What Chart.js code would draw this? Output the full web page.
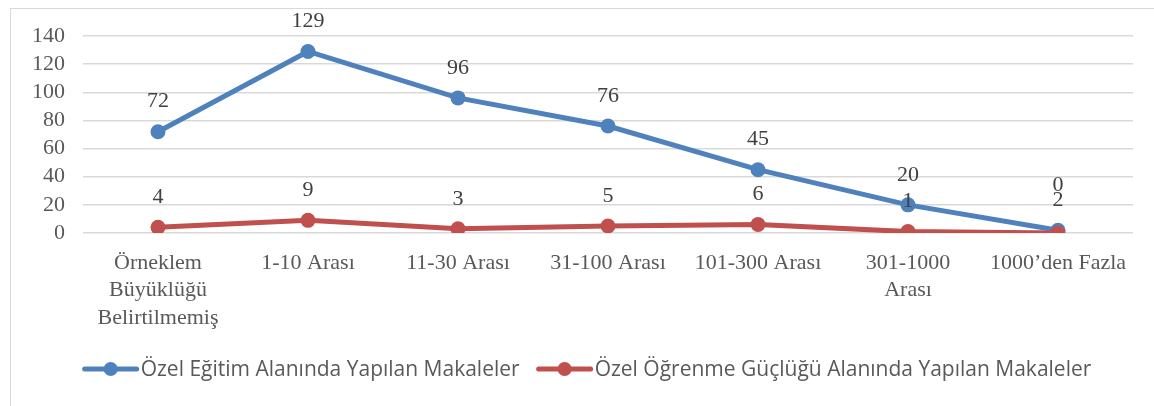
<!DOCTYPE html>
<html>
<head>
<meta charset="utf-8">
<script src="https://cdn.jsdelivr.net/npm/chart.js@4"></script>
<style>
  html, body { margin: 0; padding: 0; background: #fff; overflow: hidden; }
  #frame { position: absolute; left: 10px; top: 8px; width: 1200px; height: 450px; border: 1px solid #d9d9d9; }
  #wrap { position: absolute; left: 0; top: 0; width: 1154px; height: 406px; }
</style>
</head>
<body>
<div id="frame"></div>
<div id="wrap"><canvas id="chart"></canvas></div>
<script>
const categories = [
    ['Örneklem', 'Büyüklüğü', 'Belirtilmemiş'],
    '1-10 Arası',
    '11-30 Arası',
    '31-100 Arası',
    '101-300 Arası',
    ['301-1000', 'Arası'],
    '1000’den Fazla'
];
const ozelEgitim = [72, 129, 96, 76, 45, 20, 2];
const ogrenmeGuclugu = [4, 9, 3, 5, 6, 1, 0];
const yTicks = [0, 20, 40, 60, 80, 100, 120, 140];

const BLUE = '#4F81BD';
const RED = '#C0504D';
const serif = '"Liberation Serif", "Times New Roman", serif';

// values drawn above each point, nudged up when two labels collide
const pointLabels = {
    id: 'pointLabels',
    afterDatasetsDraw(chart) {
        const ctx = chart.ctx;
        const placed = [];
        ctx.save();
        ctx.font = '22px ' + serif;
        ctx.fillStyle = '#404040';
        ctx.textAlign = 'center';
        ctx.textBaseline = 'middle';
        chart.data.datasets.forEach((ds, d) => {
            chart.getDatasetMeta(d).data.forEach((pt, i) => {
                let y = pt.y - 30;
                placed.forEach(p => {
                    if (p.i === i && Math.abs(p.y - y) < 15) y = p.y - 15;
                });
                placed.push({i, y});
                ctx.fillText(String(ds.data[i]), pt.x, y);
            });
        });
        ctx.restore();
    }
};

// Excel-style legend: line with a dot through it
const lineLegend = {
    id: 'lineLegend',
    afterDraw(chart) {
        const ctx = chart.ctx;
        ctx.save();
        ctx.font = '21px "Open Sans", sans-serif';
        const markW = 56, gapText = 2, gapItem = 17;
        const items = chart.data.datasets.map(ds => ({
            ds, w: markW + gapText + ctx.measureText(ds.label).width
        }));
        const total = items.reduce((s, it) => s + it.w, 0) + gapItem * (items.length - 1);
        let x = (chart.width - total) / 2 + 10;
        const y = 369;
        items.forEach(it => {
            ctx.strokeStyle = it.ds.borderColor;
            ctx.lineWidth = 5;
            ctx.lineCap = 'round';
            ctx.beginPath();
            ctx.moveTo(x + 2, y);
            ctx.lineTo(x + markW - 2, y);
            ctx.stroke();
            ctx.fillStyle = it.ds.borderColor;
            ctx.beginPath();
            ctx.arc(x + markW / 2, y, 7, 0, Math.PI * 2);
            ctx.fill();
            ctx.fillStyle = '#595959';
            ctx.textBaseline = 'middle';
            ctx.textAlign = 'left';
            ctx.fillText(it.ds.label, x + markW + gapText, y + 1);
            x += it.w + gapItem;
        });
        ctx.restore();
    }
};

new Chart(document.getElementById('chart'), {
    type: 'line',
    data: {
        labels: categories,
        datasets: [{
            label: 'Özel Eğitim Alanında Yapılan Makaleler',
            data: ozelEgitim,
            borderColor: BLUE,
            backgroundColor: BLUE,
            borderWidth: 5,
            pointRadius: 7.5,
            pointHoverRadius: 7.5,
            pointBorderWidth: 0,
            tension: 0,
            order: 1
        }, {
            label: 'Özel Öğrenme Güçlüğü Alanında Yapılan Makaleler',
            data: ogrenmeGuclugu,
            borderColor: RED,
            backgroundColor: RED,
            borderWidth: 5,
            pointRadius: 7.5,
            pointHoverRadius: 7.5,
            pointBorderWidth: 0,
            tension: 0,
            order: 0
        }]
    },
    options: {
        responsive: true,
        maintainAspectRatio: false,
        animation: false,
        layout: { padding: { top: 36, right: 21, left: 0, bottom: 0 } },
        plugins: {
            legend: { display: false },
            tooltip: { enabled: false }
        },
        scales: {
            x: {
                offset: true,
                grid: { display: false, drawTicks: false },
                border: { display: false },
                ticks: {
                    color: '#595959',
                    padding: 16,
                    maxRotation: 0,
                    autoSkip: false,
                    font: { family: serif, size: 22, lineHeight: 1.25 }
                },
                afterFit(scale) { scale.height = 173; }
            },
            y: {
                min: 0,
                max: 140,
                afterBuildTicks(scale) { scale.ticks = yTicks.map(v => ({value: v})); },
                grid: { color: '#d9d9d9', lineWidth: 1.5, drawTicks: false },
                border: { display: false },
                ticks: {
                    color: '#595959',
                    padding: 18,
                    autoSkip: false,
                    font: { family: serif, size: 22 }
                },
                afterFit(scale) { scale.width = 83; }
            }
        }
    },
    plugins: [pointLabels, lineLegend]
});
</script>
</body>
</html>
